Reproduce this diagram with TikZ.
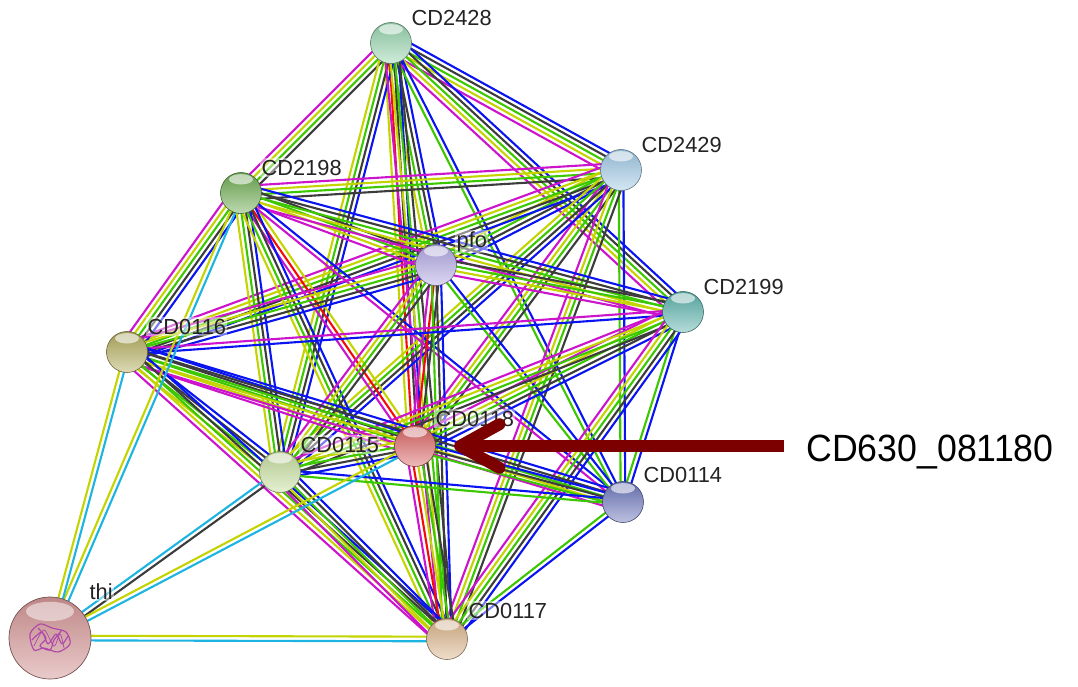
\documentclass[tikz,border=0pt]{standalone}
\usepackage{fontspec}
\newfontfamily\arialfont{Liberation Sans}
\usepackage{xcolor}
\usepackage{tikz}
\usetikzlibrary{arrows.meta,calc,backgrounds}
% evidence colours
\definecolor{cmag}{RGB}{205,20,205}
\definecolor{ctxt}{RGB}{196,212,0}
\definecolor{cnbr}{RGB}{60,200,0}
\definecolor{ccoex}{RGB}{60,60,60}
\definecolor{cocc}{RGB}{10,20,240}
\definecolor{cfus}{RGB}{245,10,10}
\definecolor{cdb}{RGB}{30,180,225}
% protein colours
\definecolor{c2428}{RGB}{150,212,172}
\definecolor{c2429}{RGB}{160,200,228}
\definecolor{c2198}{RGB}{110,172,82}
\definecolor{cpfo}{RGB}{178,168,228}
\definecolor{c2199}{RGB}{92,178,172}
\definecolor{c0116}{RGB}{178,172,92}
\definecolor{c0118}{RGB}{218,100,100}
\definecolor{c0115}{RGB}{198,222,158}
\definecolor{c0114}{RGB}{108,118,188}
\definecolor{cthi}{RGB}{212,150,150}
\definecolor{c0117}{RGB}{218,180,138}
\definecolor{cfold}{RGB}{175,70,170}
\definecolor{labelgray}{RGB}{35,35,35}
\definecolor{maroon}{RGB}{125,0,0}

% one line per evidence channel, spread side by side
\newcommand{\bundle}[3]{%
  \foreach \col [count=\nl] in {#3} {\xdef\bcount{\nl}}%
  \foreach \col [count=\il] in {#3} {%
    \pgfmathsetmacro{\off}{(\il-(\bcount+1)/2)*3.3}%
    \draw[link,draw=\col] ($(#1.center)!\off pt!90:(#2.center)$) -- ($(#2.center)!\off pt!-90:(#1.center)$);
  }}

\begin{document}
\begin{tikzpicture}[x=0.025cm,y=-0.025cm,
  protein/.style={circle,minimum size=1.025cm,inner sep=0pt,draw=#1!55!black,line width=0.4pt,
                  top color=#1!90!black,middle color=#1,bottom color=#1!45!white,
                  path picture={\fill[white,opacity=0.6] ([yshift=-0.17cm]path picture bounding box.north)
                                 ellipse [x radius=0.3cm,y radius=0.13cm];}},
  bigprotein/.style={circle,minimum size=2.05cm,inner sep=0pt,draw=#1!55!black,line width=0.5pt,
                  top color=#1!90!black,middle color=#1,bottom color=#1!50!white,
                  path picture={\fill[white,opacity=0.5] ([yshift=-0.36cm]path picture bounding box.north)
                                 ellipse [x radius=0.6cm,y radius=0.24cm];}},
  lbl/.style={font=\arialfont\fontsize{15.5}{18}\selectfont,text=labelgray,anchor=base west,
              inner sep=1pt,fill=white,fill opacity=0.45,text opacity=1},
  link/.style={line width=1.5pt},
  fold/.style={cfold,line width=0.8pt,line join=round},
  pointer/.style={draw=maroon,line width=8.5pt,-{Straight Barb[length=28pt,width=31pt,round]}}
]
\useasboundingbox (0,0) rectangle (1078,686);

% proteins
\node[protein=c2428] (n2428) at (391,43) {};
\node[protein=c2429] (n2429) at (621,170) {};
\node[protein=c2198] (n2198) at (241,193) {};
\node[protein=cpfo] (pfo) at (436,265) {};
\node[protein=c2199] (n2199) at (683,312) {};
\node[protein=c0116] (n0116) at (127,352) {};
\node[protein=c0118] (n0118) at (415,446) {};
\node[protein=c0115] (n0115) at (280,472) {};
\node[protein=c0114] (n0114) at (623,502) {};
\node[bigprotein=cthi] (thi) at (50,638) {};
\node[protein=c0117] (n0117) at (447,639) {};

% fold sketch inside thi
\begin{scope}[shift={(thi.center)}]
  \draw[fold] plot[smooth cycle] coordinates {(-20,-4) (-10,-14) (2,-10) (16,-6) (20,6) (8,14) (-6,10) (-16,12)};
  \draw[fold] plot[smooth] coordinates {(-18,2) (-8,-6) (-2,6) (6,-4) (12,6) (18,-2)};
  \draw[fold] plot[smooth] coordinates {(-12,-10) (-4,0) (-10,8) (0,12) (4,2) (12,-8)};
  \draw[fold,line width=0.5pt] plot[smooth] coordinates {(-16,8) (-6,-8) (4,8) (10,-4) (14,10)};
\end{scope}

% names
\node[lbl] (l2428) at ($(n2428)+(19,-18)$) {CD2428};
\node[lbl] (l2429) at ($(n2429)+(19,-18)$) {CD2429};
\node[lbl] (l2198) at ($(n2198)+(19,-18)$) {CD2198};
\node[lbl] (lpfo) at ($(pfo)+(19,-18)$) {pfo};
\node[lbl] (l2199) at ($(n2199)+(19,-18)$) {CD2199};
\node[lbl] (l0116) at ($(n0116)+(19,-18)$) {CD0116};
\node[lbl] (l0118) at ($(n0118)+(19,-20)$) {CD0118};
\node[lbl] (l0115) at ($(n0115)+(19,-20)$) {CD0115};
\node[lbl] (l0114) at ($(n0114)+(19,-20)$) {CD0114};
\node[lbl] (lthi) at ($(thi)+(38,-39)$) {thi};
\node[lbl] (l0117) at ($(n0117)+(20,-21)$) {CD0117};

% interactions
\begin{pgfonlayer}{background}
% CD2428
\bundle{n2428}{n2429}{cmag,ctxt,cnbr,ccoex,cocc}
\bundle{n2428}{n2198}{cmag,ctxt,cnbr,ccoex}
\bundle{n2428}{pfo}{ctxt,cnbr,ccoex,cocc}
\bundle{n2428}{n2199}{cmag,ctxt,cnbr,ccoex,cocc}
\bundle{n2428}{n0118}{ctxt,cfus,ccoex,cocc}
\bundle{n2428}{n0115}{ctxt,cnbr,ccoex,cocc}
\bundle{n2428}{n0114}{cnbr,cocc}
\bundle{n2428}{n0117}{cmag,ctxt,cnbr,ccoex}
% CD2429
\bundle{n2429}{n2198}{cmag,ctxt,cnbr,ccoex}
\bundle{n2429}{pfo}{ctxt,cnbr,ccoex,cocc}
\bundle{n2429}{n0116}{cmag,ctxt,cnbr,ccoex,cocc}
\bundle{n2429}{n0118}{cmag,ctxt,cnbr,ccoex}
\bundle{n2429}{n0115}{ctxt,cnbr,ccoex,cocc}
\bundle{n2429}{n0114}{cnbr,cocc}
\bundle{n2429}{n0117}{cmag,ctxt,cnbr,ccoex}
% CD2198
\bundle{n2198}{pfo}{cmag,ctxt,cnbr,ccoex}
\bundle{n2198}{n2199}{cmag,ctxt,cnbr,ccoex,cocc}
\bundle{n2198}{n0116}{cmag,ctxt,cnbr,ccoex,cocc}
\bundle{n2198}{n0118}{cmag,cfus,ctxt}
\bundle{n2198}{n0115}{ctxt,cnbr,ccoex,cocc}
\bundle{n2198}{n0114}{cmag,cocc}
\bundle{n2198}{n0117}{ctxt,cnbr,ccoex,cocc}
% pfo
\bundle{pfo}{n2199}{cmag,ctxt,cnbr,ccoex}
\bundle{pfo}{n0116}{cmag,ctxt,cnbr,ccoex,cocc}
\bundle{pfo}{n0118}{cmag,cfus,ccoex}
\bundle{pfo}{n0115}{cmag,ctxt,cnbr,ccoex}
\bundle{pfo}{n0114}{cnbr,cocc}
\bundle{pfo}{n0117}{cnbr,ccoex,cocc}
% CD2199
\bundle{n2199}{n0116}{cmag,cocc}
\bundle{n2199}{n0118}{cmag,ctxt,cnbr,ccoex,cocc}
\bundle{n2199}{n0115}{cmag,ctxt,cnbr,ccoex}
\bundle{n2199}{n0114}{cnbr,cocc}
\bundle{n2199}{n0117}{cmag,ctxt,cnbr,ccoex,cocc}
% CD0116
\bundle{n0116}{n0118}{cmag,ctxt,cnbr,ccoex,cocc}
\bundle{n0116}{n0115}{ctxt,cnbr,ccoex,cocc}
\bundle{n0116}{n0114}{cmag,ctxt,cnbr,ccoex,cocc}
\bundle{n0116}{n0117}{cmag,ctxt,cnbr,ccoex,cocc}
% CD0118
\bundle{n0118}{n0115}{ctxt,cnbr,ccoex,cocc}
\bundle{n0118}{n0114}{cnbr,ccoex,cocc}
\bundle{n0118}{n0117}{cmag,cfus,ctxt,cnbr,ccoex}
% CD0115, CD0114
\bundle{n0115}{n0114}{cnbr,cocc}
\bundle{n0115}{n0117}{cmag,ctxt,cnbr,ccoex,cocc}
\bundle{n0114}{n0117}{cnbr,cocc}
% thi
\bundle{thi}{n2198}{cdb,ctxt}
\bundle{thi}{n0116}{cdb,ctxt}
\bundle{thi}{n0115}{ccoex,cdb}
\bundle{thi}{n0118}{cdb,ctxt}
\bundle{thi}{n0117}{cdb,ctxt}
\end{pgfonlayer}

% callout
\node[font=\arialfont\fontsize{27}{32}\selectfont,anchor=base west,inner sep=0pt] (callout)
  at (806,461) {\scalebox{0.94}[1]{CD630\_081180}};
\draw[pointer,shorten <=16pt,shorten >=13pt] (callout.west |- n0118.east) -- (n0118.east);
\end{tikzpicture}
\end{document}
